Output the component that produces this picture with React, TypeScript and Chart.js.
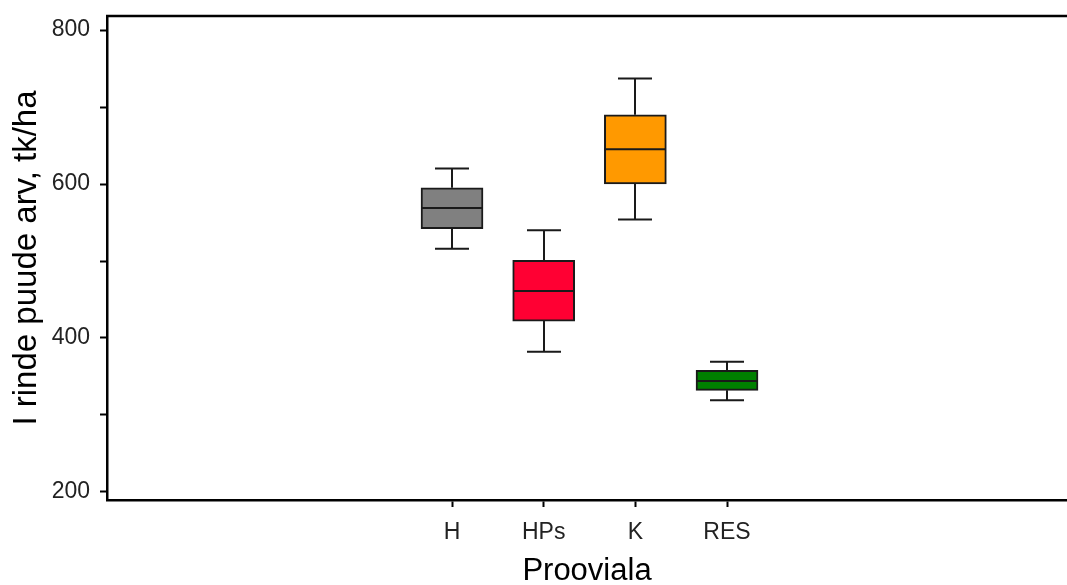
import React, { useEffect, useRef } from "react";
import { Chart, registerables } from "chart.js";

Chart.register(...registerables);

const categories = ["H", "HPs", "K", "RES"];
const positions = [1, 2, 3, 4];
const mins = [516, 382, 554, 319];
const q1s = [542, 422, 600, 332];
const medians = [569, 461, 645, 344];
const q3s = [595, 501, 690, 358];
const maxes = [620, 540, 737, 369];
const colors = ["#808080", "#FF0033", "#FF9900", "#008000"];
const yTicks = [200, 300, 400, 500, 600, 700, 800];
const yTickLabels = [200, 400, 600, 800];

const FONT = 'Arial, "Liberation Sans", sans-serif';

const boxPlugin = {
  id: "boxExtras",
  afterDatasetsDraw(chart: any) {
    const { ctx, scales, chartArea } = chart;
    const xs = scales.x;
    const ys = scales.y;
    ctx.save();
    ctx.strokeStyle = "#1a1a1a";
    ctx.lineWidth = 2;
    const capHalf = 17;
    const boxHalf = 31;
    positions.forEach((p, i) => {
      const x = Math.round(xs.getPixelForValue(p));
      const yMin = ys.getPixelForValue(mins[i]);
      const yQ1 = ys.getPixelForValue(q1s[i]);
      const yMed = ys.getPixelForValue(medians[i]);
      const yQ3 = ys.getPixelForValue(q3s[i]);
      const yMax = ys.getPixelForValue(maxes[i]);
      ctx.beginPath();
      ctx.moveTo(x, yQ3);
      ctx.lineTo(x, yMax);
      ctx.moveTo(x - capHalf, yMax);
      ctx.lineTo(x + capHalf, yMax);
      ctx.moveTo(x, yQ1);
      ctx.lineTo(x, yMin);
      ctx.moveTo(x - capHalf, yMin);
      ctx.lineTo(x + capHalf, yMin);
      ctx.moveTo(x - boxHalf, yMed);
      ctx.lineTo(x + boxHalf, yMed);
      ctx.stroke();
    });
    // top border
    ctx.strokeStyle = "#000";
    ctx.lineWidth = 2.5;
    ctx.beginPath();
    ctx.moveTo(chartArea.left - 1, chartArea.top);
    ctx.lineTo(chartArea.right, chartArea.top);
    ctx.stroke();
    ctx.restore();
  },
};

export default function App() {
  const ref = useRef<HTMLCanvasElement | null>(null);
  useEffect(() => {
    if (!ref.current) return;
    const chart = new Chart(ref.current, {
      type: "bar",
      data: {
        datasets: [
          {
            data: positions.map((p, i) => ({ x: p, y: [q1s[i], q3s[i]] })) as any,
            backgroundColor: colors,
            borderColor: "#1a1a1a",
            borderWidth: 2,
            borderSkipped: false,
            barThickness: 62,
          },
        ],
      },
      options: {
        animation: false,
        responsive: true,
        maintainAspectRatio: false,
        layout: { padding: { top: 16, right: 0, left: 0, bottom: 0 } },
        plugins: { legend: { display: false }, tooltip: { enabled: false } },
        scales: {
          x: {
            type: "linear",
            offset: false,
            min: -2.764,
            max: 7.709,
            afterBuildTicks: (scale: any) => {
              scale.ticks = positions.map((v) => ({ value: v }));
            },
            afterFit: (scale: any) => {
              scale.height = 85;
              scale.paddingLeft = 0;
              scale.paddingRight = 0;
            },
            ticks: {
              callback: (v: any) => categories[positions.indexOf(Number(v))] ?? "",
              color: "#222",
              font: { family: FONT, size: 23 },
              padding: 12,
              maxRotation: 0,
              autoSkip: false,
            },
            grid: {
              offset: false,
              drawOnChartArea: false,
              drawTicks: true,
              tickLength: 7,
              tickColor: "#000",
              tickWidth: 2,
            },
            border: { display: true, color: "#000", width: 2.5 },
            title: {
              display: true,
              text: "Prooviala",
              color: "#000",
              font: { family: FONT, size: 31, lineHeight: 0.85 },
              padding: { top: 0, bottom: 0 },
            },
          },
          y: {
            type: "linear",
            min: 189.6,
            max: 818.2,
            afterBuildTicks: (scale: any) => {
              scale.ticks = yTicks.map((v) => ({ value: v }));
            },
            afterFit: (scale: any) => {
              scale.width = 107;
              scale.paddingTop = 0;
              scale.paddingBottom = 0;
            },
            ticks: {
              callback: (v: any) => (yTickLabels.includes(Number(v)) ? String(v) : ""),
              color: "#222",
              font: { family: FONT, size: 23 },
              padding: 10,
            },
            grid: {
              drawOnChartArea: false,
              drawTicks: true,
              tickLength: 7,
              tickColor: "#000",
              tickWidth: 2,
            },
            border: { display: true, color: "#000", width: 2.5 },
            title: {
              display: true,
              text: "I rinde puude arv, tk/ha",
              color: "#000",
              font: { family: FONT, size: 33, lineHeight: 1 },
              padding: { top: 10, bottom: 0 },
            },
          },
        },
      },
      plugins: [boxPlugin],
    });
    return () => chart.destroy();
  }, []);
  return (
    <div style={{ position: "fixed", left: 0, top: 0, width: 1067, height: 585, background: "#fff" }}>
      <canvas ref={ref} />
    </div>
  );
}
